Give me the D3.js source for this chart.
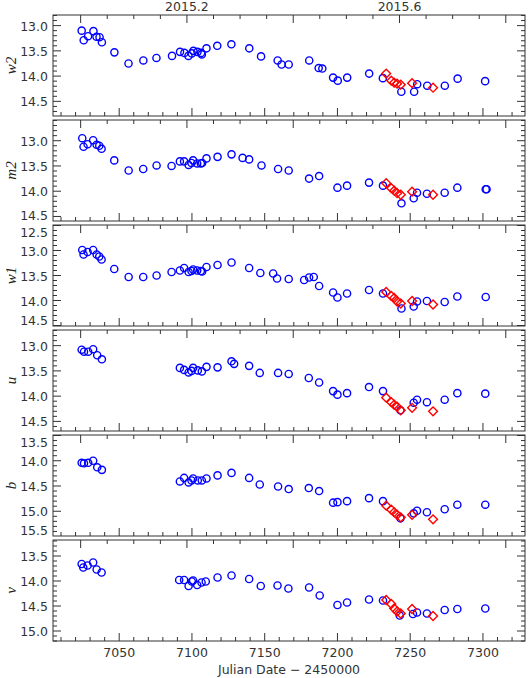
<!DOCTYPE html>
<html><head><meta charset="utf-8">
<script src="https://cdn.jsdelivr.net/npm/d3@7"></script>
<style>body{margin:0;background:#fff}</style></head>
<body><svg id="c" width="528" height="678"></svg>
<script>
const bands = ["w2","m2","w1","u","b","v"];
const yDomains = [[12.79,14.79],[12.59,14.59],[12.49,14.51],[12.69,14.69],[13.49,15.49],[13.18,15.2]];
const yTicks = [[13.0,13.5,14.0,14.5],[13.0,13.5,14.0,14.5],[12.5,13.0,13.5,14.0,14.5],[13.0,13.5,14.0,14.5],[13.5,14.0,14.5,15.0,15.5],[13.5,14.0,14.5,15.0]];
const xTicks = [7050,7100,7150,7200,7250,7300];
const yearTickLabels = ["2015.2","2015.6"];
const redT = [7233.5,7237,7239,7241,7243.5,7251.3,7265.7];

const w2Blue = [[7024.2,13.10],[7025.6,13.29],[7028.6,13.21],[7032.3,13.11],[7034.4,13.22],[7036.5,13.23],[7038.1,13.33],[7046.7,13.53],[7056.4,13.75],[7066.6,13.69],[7075.6,13.64],[7086.3,13.60],[7091.8,13.52],[7094.8,13.54],[7097.6,13.60],[7099.9,13.55],[7101,13.50],[7103.8,13.52],[7106.3,13.54],[7106.8,13.57],[7110,13.45],[7117.4,13.40],[7127.1,13.37],[7139.4,13.45],[7147.5,13.61],[7158.9,13.69],[7161.6,13.77],[7166.5,13.77],[7180.6,13.69],[7187.1,13.84],[7189.6,13.85],[7197,14.03],[7200.2,14.09],[7206.7,14.03],[7221.8,13.95],[7231.2,14.04],[7243.9,14.31],[7252.7,14.31],[7254.8,14.16],[7261.7,14.19],[7273.8,14.19],[7282.6,14.05],[7301.5,14.10]];
const m2Blue = [[7024.6,12.95],[7025.5,13.12],[7028.3,13.07],[7032.1,12.99],[7034.5,13.08],[7036.3,13.10],[7037.9,13.16],[7046.6,13.39],[7056.5,13.59],[7066.5,13.56],[7075.7,13.49],[7086,13.50],[7091.7,13.41],[7094.6,13.41],[7097.7,13.48],[7099.7,13.44],[7100.8,13.39],[7103.6,13.45],[7106.1,13.45],[7107,13.44],[7110,13.35],[7117.6,13.32],[7127.2,13.27],[7134.8,13.34],[7139.3,13.37],[7147.8,13.49],[7159.2,13.56],[7166.5,13.59],[7180.5,13.75],[7187.4,13.70],[7200,13.93],[7206.6,13.89],[7221.7,13.83],[7231.3,13.89],[7244,14.24],[7252.4,14.14],[7254.7,14.03],[7261.5,14.05],[7273.7,14.03],[7282.4,13.93],[7301.9,13.96],[7302.5,13.96]];
const w1Blue = [[7024.6,12.99],[7025.5,13.08],[7028.3,13.03],[7032.1,12.99],[7034.5,13.08],[7036.3,13.12],[7037.9,13.18],[7046.6,13.37],[7056.5,13.53],[7066.5,13.53],[7075.7,13.50],[7086,13.43],[7091.7,13.40],[7094.6,13.35],[7097.7,13.43],[7099.7,13.41],[7100.8,13.38],[7103.6,13.40],[7106.1,13.41],[7107,13.42],[7110,13.33],[7117.6,13.29],[7127.2,13.24],[7139.3,13.35],[7147,13.45],[7155.8,13.46],[7158.5,13.56],[7166.5,13.57],[7177.1,13.59],[7180.5,13.54],[7183.7,13.53],[7187.4,13.71],[7197,13.84],[7200,13.94],[7206.6,13.86],[7221.7,13.79],[7231.3,13.86],[7244,14.16],[7252.4,14.12],[7254.7,14.02],[7261.5,14.01],[7273.7,14.03],[7282.4,13.92],[7301.9,13.93]];
const uBlue = [[7024.2,13.08],[7025.8,13.12],[7028.7,13.12],[7032.1,13.07],[7034.9,13.19],[7038.1,13.27],[7091.7,13.44],[7094.6,13.48],[7097.7,13.53],[7099.7,13.50],[7100.8,13.44],[7104,13.49],[7106.8,13.51],[7110,13.42],[7117.6,13.43],[7127.2,13.31],[7129,13.36],[7139.3,13.40],[7146.6,13.54],[7159.2,13.54],[7166.5,13.56],[7180.3,13.64],[7187.4,13.73],[7197,13.90],[7200,13.97],[7206.6,13.94],[7221.7,13.82],[7231.3,13.90],[7243.3,14.28],[7252.4,14.13],[7254.7,14.07],[7261.5,14.12],[7273.7,14.07],[7282.4,13.94],[7301.6,13.95]];
const bBlue = [[7024.2,14.04],[7025.8,14.05],[7028.7,14.04],[7032.1,14.00],[7034.9,14.13],[7038.1,14.18],[7091.7,14.41],[7094.6,14.34],[7097.7,14.43],[7099.7,14.39],[7100.8,14.35],[7104,14.39],[7106.8,14.39],[7110,14.35],[7117.6,14.29],[7127.2,14.24],[7139.3,14.34],[7146.6,14.47],[7159.2,14.51],[7166.5,14.56],[7180.3,14.54],[7187.4,14.60],[7197,14.83],[7200,14.82],[7206.6,14.80],[7221.7,14.74],[7231.3,14.80],[7243.3,15.14],[7252.4,15.04],[7254.7,14.99],[7261.5,15.02],[7273.7,14.96],[7282.4,14.87],[7301.6,14.87]];
const vBlue = [[7024.2,13.66],[7025.3,13.73],[7028.3,13.69],[7032.1,13.63],[7034.5,13.77],[7037.9,13.83],[7091.2,13.98],[7094.6,13.98],[7097.7,14.10],[7099.9,14.01],[7100.8,13.99],[7103.6,14.08],[7106.6,14.03],[7109.5,14.01],[7117.6,13.93],[7127.2,13.89],[7139.3,13.96],[7147.3,14.10],[7158.8,14.09],[7166.3,14.15],[7180.5,14.13],[7187.8,14.29],[7200,14.48],[7206.6,14.43],[7221.7,14.37],[7231.3,14.39],[7242.8,14.69],[7251.9,14.66],[7254.7,14.63],[7261.5,14.65],[7273.7,14.58],[7282.4,14.56],[7301.6,14.55]];
const w2Red = [13.95,14.09,14.13,14.15,14.17,14.14,14.23];
const m2Red = [13.84,13.94,13.99,14.04,14.07,14.01,14.07];
const w1Red = [13.83,13.91,13.95,14.02,14.06,14.01,14.08];
const uRed  = [14.03,14.12,14.17,14.21,14.28,14.23,14.30];
const bRed  = [14.89,14.97,15.02,15.07,15.12,15.07,15.16];
const vRed  = [14.38,14.46,14.55,14.61,14.65,14.56,14.70];

const blues=[w2Blue,m2Blue,w1Blue,uBlue,bBlue,vBlue];
const reds=[w2Red,m2Red,w1Red,uRed,bRed,vRed];

const svg=d3.select("#c");
const L=53,R=525,top0=15,step=105,H=101;
const x=d3.scaleLinear().domain([7004.5,7328.9]).range([L,R]);
// year -> JD-2450000
const yr2jd = y => 7023.5 + (y-2015)*365.25;
const font="'DejaVu Sans', sans-serif";
const grey="#333";

bands.forEach((bd,i)=>{
  const t=top0+i*step, bt=t+H;
  const y=d3.scaleLinear().domain(yDomains[i]).range([t,bt]);
  const g=svg.append("g");
  g.append("rect").attr("x",L).attr("y",t).attr("width",R-L).attr("height",H)
   .attr("fill","none").attr("stroke",grey).attr("stroke-width",1);
  // y ticks
  const minor=d3.range(Math.ceil(yDomains[i][0]*10),Math.floor(yDomains[i][1]*10)+1).map(v=>v/10);
  minor.forEach(v=>{
    const maj=Math.abs(v*2-Math.round(v*2))<1e-6;
    const len=maj?8:4;
    g.append("line").attr("x1",L).attr("x2",L+len).attr("y1",y(v)).attr("y2",y(v)).attr("stroke",grey);
    g.append("line").attr("x1",R).attr("x2",R-len).attr("y1",y(v)).attr("y2",y(v)).attr("stroke",grey);
  });
  yTicks[i].forEach(v=>{
    let yy=y(v)+5;
    if(yy<t+10) yy=t+12;
    if(yy>bt-1) yy=bt-1;
    g.append("text").attr("x",L-5).attr("y",yy).attr("text-anchor","end")
     .attr("font-family",font).attr("font-size",12.5).attr("fill",grey).text(v.toFixed(1));
  });
  // x ticks: JD on bottom, years on top
  d3.range(7010,7330,10).forEach(v=>{
    const len=(v%50===0)?8:4;
    g.append("line").attr("x1",x(v)).attr("x2",x(v)).attr("y1",bt).attr("y2",bt-len).attr("stroke",grey);
  });
  d3.range(2015.0,2015.9,0.05).forEach(v=>{
    const maj=Math.abs(v*5-Math.round(v*5))<1e-6;
    const px=x(yr2jd(v)); if(px<L||px>R) return;
    g.append("line").attr("x1",px).attr("x2",px).attr("y1",t).attr("y2",t+(maj?8:4)).attr("stroke",grey);
  });
  g.append("text").attr("transform",`translate(16,${t+H/2}) rotate(-90)`).attr("text-anchor","middle")
   .attr("font-family","'Liberation Serif', serif").attr("font-style","italic").attr("font-size",15)
   .attr("fill","#222").text(bd);
  // data
  g.selectAll("circle").data(blues[i]).join("circle")
   .attr("cx",d=>x(d[0])).attr("cy",d=>y(d[1])).attr("r",3.6)
   .attr("fill","none").attr("stroke","#0000ff").attr("stroke-width",1.4);
  const s=4.4;
  g.selectAll("path.red").data(reds[i].map((m,k)=>[redT[k],m])).join("path").attr("class","red")
   .attr("d",d=>{const cx=x(d[0]),cy=y(d[1]);return `M${cx},${cy-s}L${cx+s},${cy}L${cx},${cy+s}L${cx-s},${cy}Z`;})
   .attr("fill","none").attr("stroke","#ff0000").attr("stroke-width",1.4);
});
const lastB=top0+5*step+H;
xTicks.forEach(v=>{
  svg.append("text").attr("x",x(v)).attr("y",lastB+16).attr("text-anchor","middle")
   .attr("font-family",font).attr("font-size",12.5).attr("fill",grey).text(v);
});
yearTickLabels.forEach(s=>{
  svg.append("text").attr("x",x(yr2jd(+s))).attr("y",11).attr("text-anchor","middle")
   .attr("font-family",font).attr("font-size",12.5).attr("fill",grey).text(s);
});
svg.append("text").attr("x",(L+R)/2).attr("y",lastB+33).attr("text-anchor","middle")
 .attr("font-family",font).attr("font-size",12.5).attr("fill",grey).text("Julian Date \u2212 2450000");
</script></body></html>
